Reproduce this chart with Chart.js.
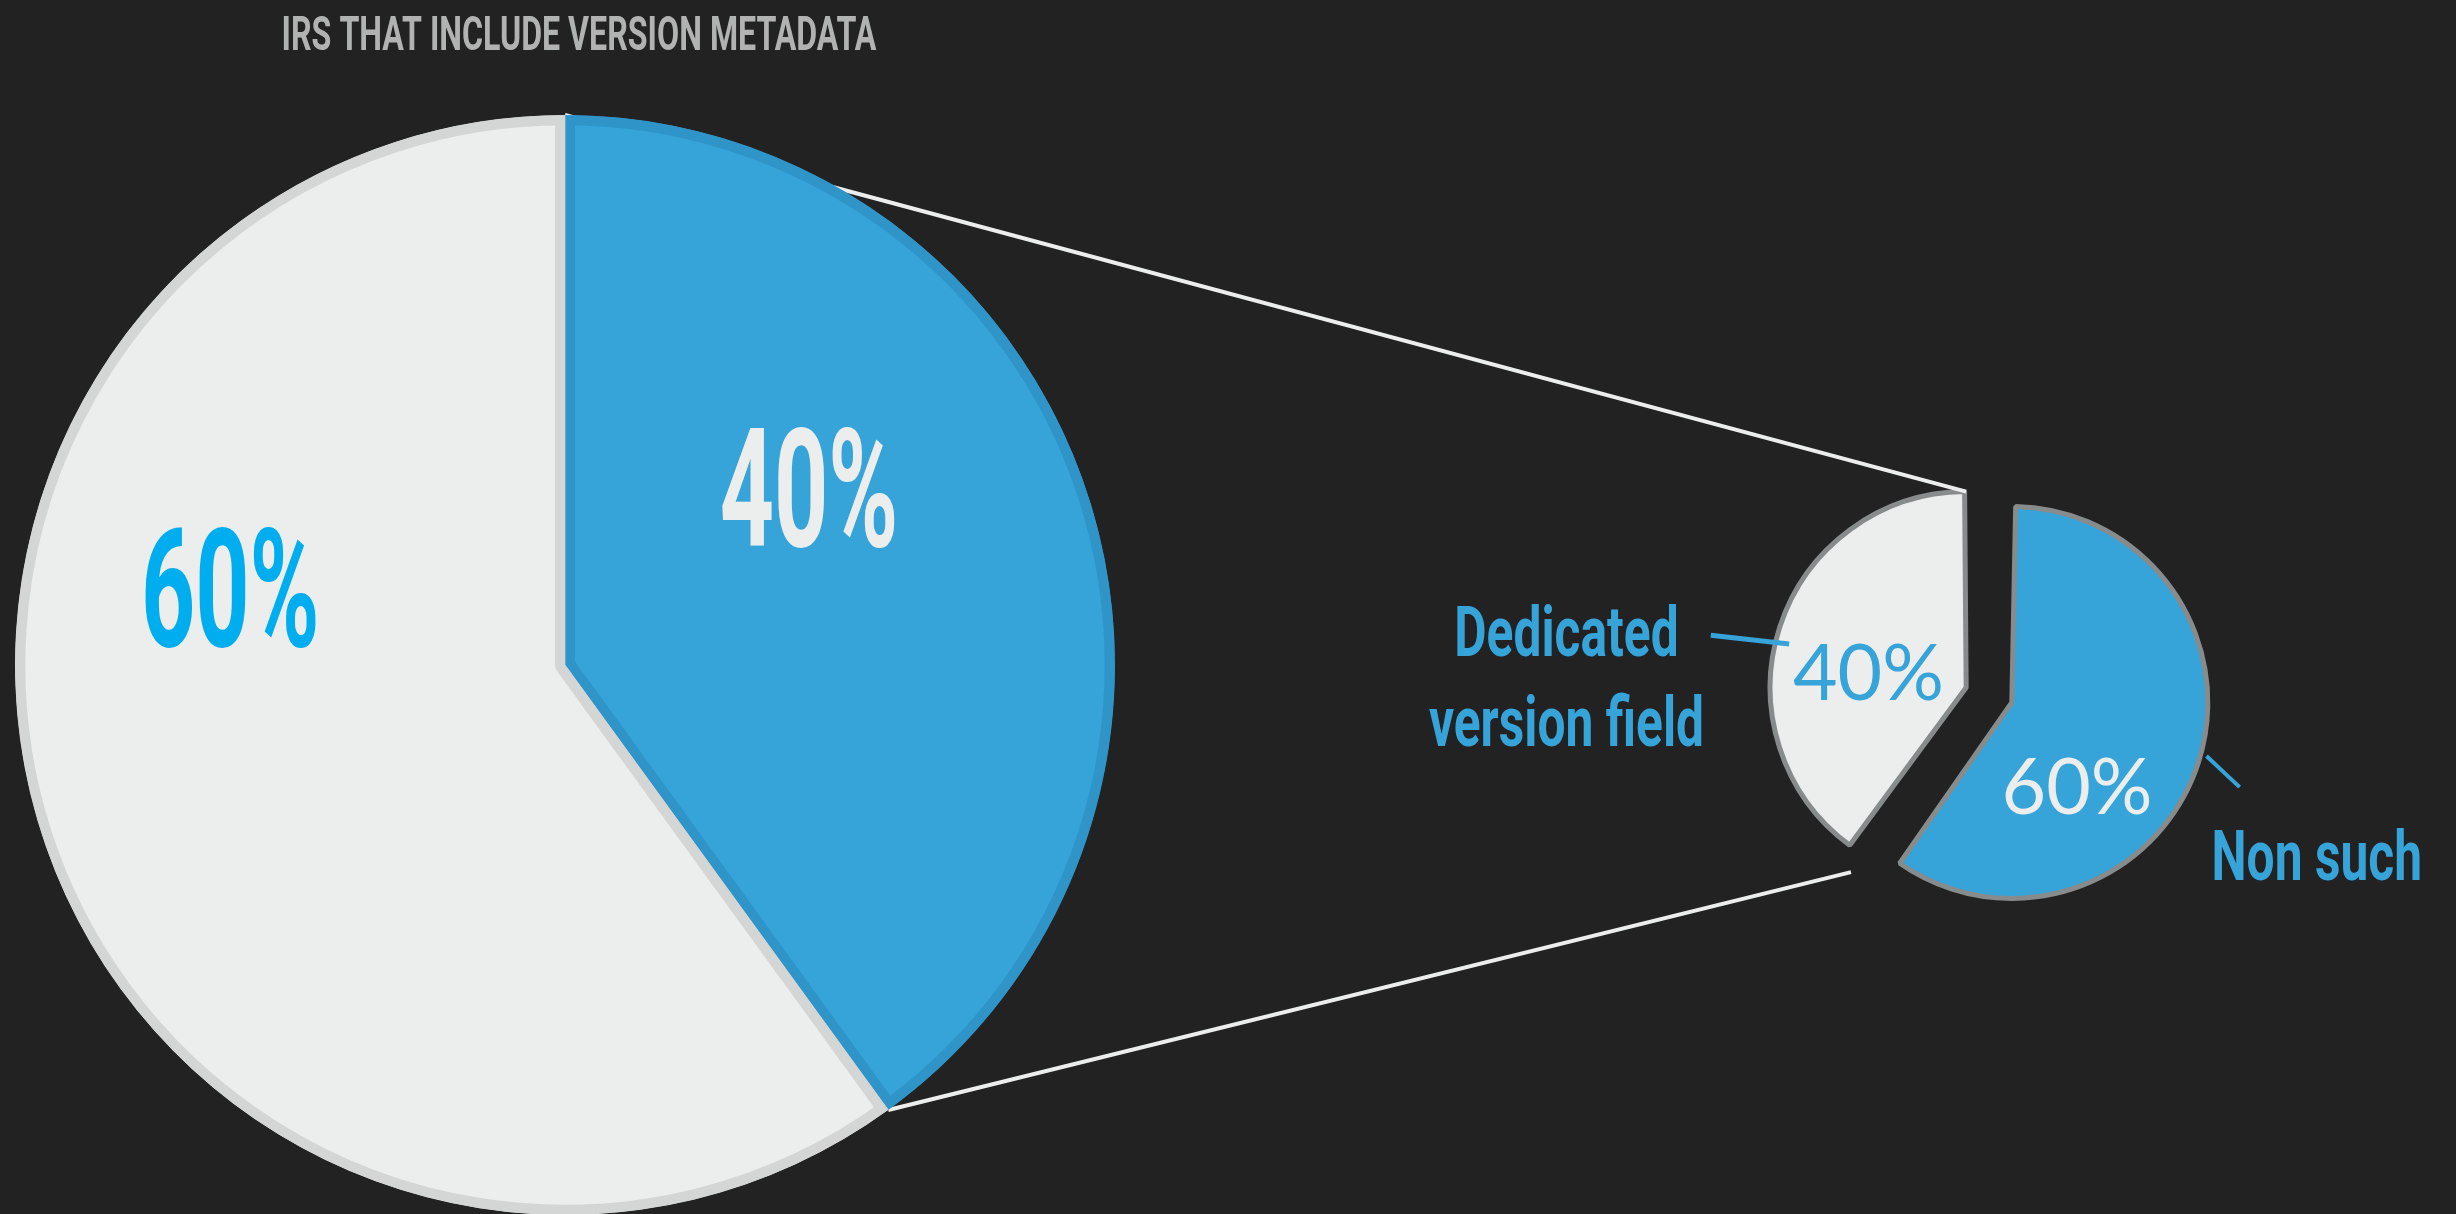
<!DOCTYPE html>
<html>
<head>
<meta charset="utf-8">
<script src="https://cdn.jsdelivr.net/npm/chart.js@4.4.0/dist/chart.umd.min.js"></script>
<style>
  html, body { margin: 0; padding: 0; background: #222222; overflow: hidden; }
  #wrap { position: relative; width: 2456px; height: 1214px; }
  #detail { position: absolute; left: 1400px; top: 300px; }
  #overview { position: absolute; left: 0; top: 0; }
</style>
</head>
<body>
<div id="wrap">
  <canvas id="detail" width="1056" height="800"></canvas>
  <canvas id="overview" width="2456" height="1214"></canvas>
</div>
<script>
const chartTitle = 'IRS THAT INCLUDE VERSION METADATA';

const overviewLabels = ['Include version metadata', 'No version metadata'];
const overviewValues = [40, 60];

const detailLabels = ['Non such', ['Dedicated', 'version field']];
const detailValues = [60, 40];

const BLUE = '#36a3d9';
const PALE = '#eceeed';

const titleStyle  = { family: 'Roboto, sans-serif', weight: 'bold', size: 48, cap: 0.711, squeeze: 0.67, color: '#b1b3b3' };
const bigPctStyle = { family: 'Roboto, sans-serif', weight: 'bold', size: 166, cap: 0.711, squeeze: 0.57 };
const catStyle    = { family: 'Roboto, sans-serif', weight: 'bold', size: 70, cap: 0.711, squeeze: 0.71, color: BLUE, lineHeight: 90 };
const smallPctStyle = { family: 'Lato, sans-serif', weight: 'normal', size: 77, cap: 0.72, squeeze: 1 };

// where each label sits, in degrees and fractions of the slice radius
const overviewMarks = [
  { deg: -36.1, k: 0.549, color: PALE },
  { deg: 193.1, k: 0.625, color: '#00aeef' }
];
const detailMarks = [
  { deg: 52, k: 0.54, color: PALE, leader: [[15.4, 1.03], [20.4, 1.24]], leaderWidth: 4, text: [26.6, 1.74] },
  { deg: 189, k: 0.505, color: BLUE, leader: [[193.8, 0.93], [191.6, 1.33]], leaderWidth: 5, text: [181.6, 2.04] }
];

function pct(values, i) {
  const total = values.reduce((a, b) => a + b, 0);
  return Math.round(values[i] / total * 100) + '%';
}

// text centred on (x, y), squeezed sideways to look condensed
function squeezedText(ctx, text, x, y, style, color) {
  ctx.save();
  ctx.font = `${style.weight} ${style.size}px ${style.family}`;
  ctx.fillStyle = color || style.color;
  ctx.textAlign = 'left';
  ctx.textBaseline = 'alphabetic';
  const squeeze = style.squeeze || 1;
  const w = ctx.measureText(text).width * squeeze;
  ctx.translate(x - w / 2, y + style.size * style.cap / 2);
  ctx.scale(squeeze, 1);
  ctx.fillText(text, 0, 0);
  ctx.restore();
}

// ArcElement grows an offset slice's radius as well as moving it; undo the growth
function radiusGrowth(arc) {
  const fix = 1 - Math.sin(Math.min(Math.PI, arc.circumference || 0));
  return (arc.options.offset || 0) / 4 * fix;
}

// centre and radius of a slice as drawn, after its offset
function sliceFrame(arc) {
  const shift = (arc.options.offset || 0) / 4;
  const mid = (arc.startAngle + arc.endAngle) / 2;
  return {
    x: arc.x + Math.cos(mid) * shift,
    y: arc.y + Math.sin(mid) * shift,
    r: arc.outerRadius + radiusGrowth(arc),
    start: arc.startAngle,
    end: arc.endAngle
  };
}

function at(frame, deg, k) {
  const a = deg * Math.PI / 180;
  return { x: frame.x + Math.cos(a) * frame.r * k, y: frame.y + Math.sin(a) * frame.r * k };
}

function edge(frame, angle) {
  return { x: frame.x + Math.cos(angle) * frame.r, y: frame.y + Math.sin(angle) * frame.r };
}

const detailCanvas = document.getElementById('detail');

const detailChart = new Chart(detailCanvas, {
  type: 'pie',
  data: {
    labels: detailLabels,
    datasets: [{
      data: detailValues,
      backgroundColor: [BLUE, PALE],
      borderColor: '#888b8b',
      borderWidth: 5,
      offset: 96,
      radius: 196
    }]
  },
  options: {
    responsive: false,
    animation: false,
    events: [],
    layout: { padding: { left: 122, top: 0, right: 0, bottom: 10 } },
    plugins: {
      legend: { display: false },
      tooltip: { enabled: false }
    }
  },
  plugins: [{
    id: 'explode',
    afterDatasetUpdate: function(chart, args) {
      args.meta.data.forEach(arc => {
        arc.outerRadius -= radiusGrowth(arc);
      });
    }
  }, {
    id: 'detailCallouts',
    afterDatasetsDraw: function(chart) {
      const ctx = chart.ctx;
      const arcs = chart.getDatasetMeta(0).data;

      arcs.forEach((arc, i) => {
        const frame = sliceFrame(arc);
        const mark = detailMarks[i];

        const p = at(frame, mark.deg, mark.k);
        squeezedText(ctx, pct(detailValues, i), p.x, p.y, smallPctStyle, mark.color);

        const a = at(frame, mark.leader[0][0], mark.leader[0][1]);
        const b = at(frame, mark.leader[1][0], mark.leader[1][1]);
        ctx.save();
        ctx.strokeStyle = BLUE;
        ctx.lineWidth = mark.leaderWidth;
        ctx.beginPath();
        ctx.moveTo(a.x, a.y);
        ctx.lineTo(b.x, b.y);
        ctx.stroke();
        ctx.restore();

        const lines = [].concat(chart.data.labels[i]);
        const t = at(frame, mark.text[0], mark.text[1]);
        lines.forEach((line, j) => {
          const y = t.y + (j - (lines.length - 1) / 2) * catStyle.lineHeight;
          squeezedText(ctx, line, t.x, y, catStyle);
        });
      });
    }
  }]
});

const overviewChart = new Chart(document.getElementById('overview'), {
  type: 'pie',
  data: {
    labels: overviewLabels,
    datasets: [{
      data: overviewValues,
      backgroundColor: [BLUE, PALE],
      borderColor: ['#2f95c8', '#d4d6d6'],
      borderWidth: 10,
      borderAlign: 'inner',
      radius: 550
    }]
  },
  options: {
    responsive: false,
    animation: false,
    events: [],
    layout: { padding: { left: 0, top: 116, right: 1326, bottom: 0 } },
    plugins: {
      legend: { display: false },
      tooltip: { enabled: false }
    }
  },
  plugins: [{
    id: 'overviewCallouts',
    beforeDatasetsDraw: function(chart) {
      const ctx = chart.ctx;
      const area = chart.chartArea;
      squeezedText(ctx, chartTitle, (area.left + area.right) / 2 + 14, 33, titleStyle);

      // zoom lines from the highlighted slice to the breakdown pie
      const src = sliceFrame(chart.getDatasetMeta(0).data[0]);
      const dst = sliceFrame(detailChart.getDatasetMeta(0).data[1]);
      const ox = detailCanvas.offsetLeft;
      const oy = detailCanvas.offsetTop;

      ctx.save();
      ctx.strokeStyle = PALE;
      ctx.lineWidth = 4;
      [[src.start, dst.end], [src.end, dst.start]].forEach(([a, b]) => {
        const p = edge(src, a);
        const q = edge(dst, b);
        ctx.beginPath();
        ctx.moveTo(p.x, p.y);
        ctx.lineTo(q.x + ox, q.y + oy + (b === dst.start ? 26 : 0));
        ctx.stroke();
      });
      ctx.restore();
    },
    afterDatasetsDraw: function(chart) {
      const ctx = chart.ctx;
      chart.getDatasetMeta(0).data.forEach((arc, i) => {
        const mark = overviewMarks[i];
        const p = at(sliceFrame(arc), mark.deg, mark.k);
        squeezedText(ctx, pct(overviewValues, i), p.x, p.y, bigPctStyle, mark.color);
      });
    }
  }]
});
</script>
</body>
</html>
